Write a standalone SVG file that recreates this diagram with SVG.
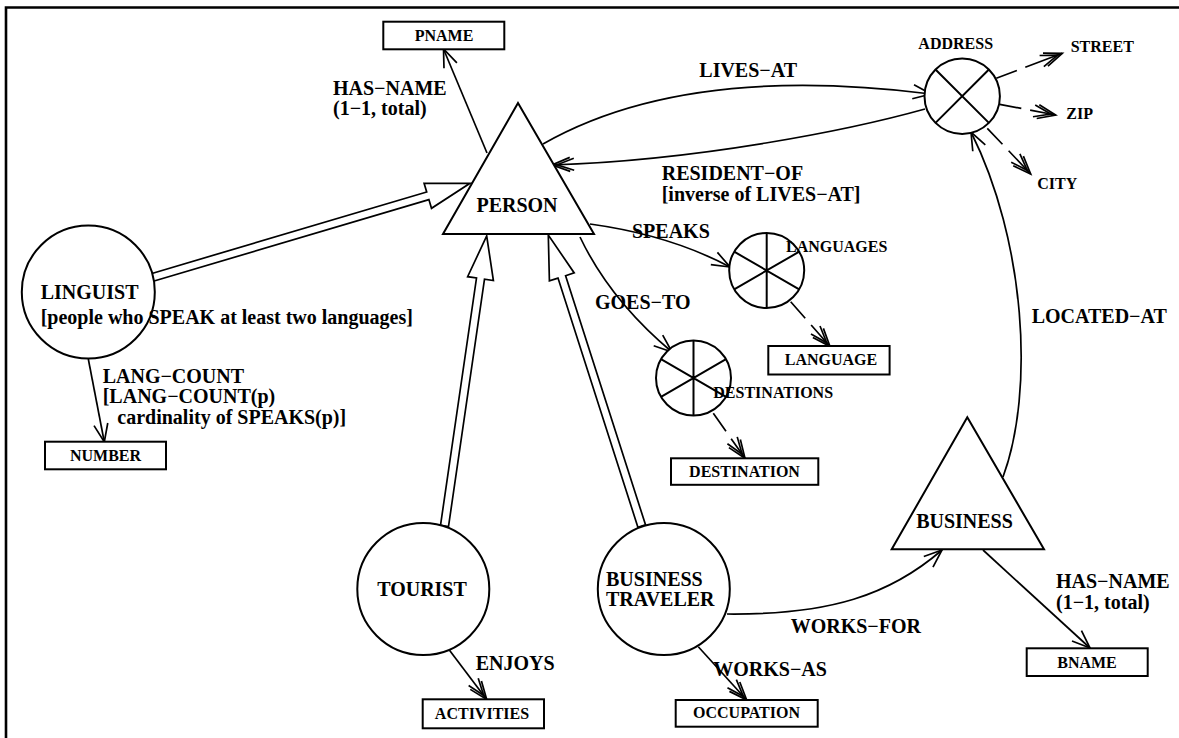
<svg xmlns="http://www.w3.org/2000/svg" width="1179" height="738" viewBox="0 0 1179 738">
  <style>
    .frame { fill: none; stroke: #000; stroke-width: 2.6; }
    .shape { fill: #fff; stroke: #000; stroke-width: 2; }
    .spoke { fill: none; stroke: #000; stroke-width: 2; }
    .box { fill: #fff; stroke: #000; stroke-width: 2; }
    .edge { fill: none; stroke: #000; stroke-width: 1.7; }
    .dash { fill: none; stroke: #000; stroke-width: 1.7; stroke-dasharray: 22 9 60; }
    .isa { fill: #fff; stroke: #000; stroke-width: 1.7; stroke-linejoin: miter; }
    .lbl { font-family: "Liberation Serif", "Times New Roman", serif; font-weight: bold; font-size: 20px; fill: #000; }
    .sm { font-family: "Liberation Serif", "Times New Roman", serif; font-weight: bold; font-size: 16px; fill: #000; }
    .mid { text-anchor: middle; }
  </style>
  <defs>
    <marker id="ah" markerUnits="userSpaceOnUse" orient="auto" overflow="visible" markerWidth="1" markerHeight="1">
      <path d="M-18,-7 L0,0 L-18,7" fill="none" stroke="#000" stroke-width="1.7"/>
    </marker>
    <marker id="ah2" markerUnits="userSpaceOnUse" orient="auto" overflow="visible" markerWidth="1" markerHeight="1">
      <path d="M-18,-7 L0,0 L-18,7 M-22,-6 L-5,0 L-22,6" fill="none" stroke="#000" stroke-width="1.7"/>
    </marker>
  </defs>

  <rect width="1179" height="738" fill="#fff"/>
  <path class="frame" d="M6,738 V7.5 H1179"/>

  <!-- connectors -->
  <g id="connectors">
    <!-- subclass (ISA) arrows -->
    <polygon class="isa" points="149.4,274.2 426.7,192.0 424.1,183.3 470,183.3 431.5,208.3 428.9,199.6 151.6,281.8"/>
    <polygon class="isa" points="440.5,525.4 476.5,278.0 467.6,276.7 486.7,236 493.4,280.5 484.5,279.2 448.5,526.6"/>
    <polygon class="isa" points="637.9,527.2 558.0,278.1 549.4,280.9 548.3,235 574.2,272.9 565.6,275.7 645.5,524.8"/>

    <!-- attributes -->
    <path class="edge" d="M487,153 L443.5,49" marker-end="url(#ah)"/>
    <path class="edge" d="M543,144 C620,100 740,70 931,94" marker-end="url(#ah)"/>
    <path class="edge" d="M925,109 C850,130 700,160 552,165" marker-end="url(#ah2)"/>
    <path class="edge" d="M590,224 Q670,235 730,267" marker-end="url(#ah)"/>
    <path class="edge" d="M580,237 Q610,300 672,352" marker-end="url(#ah)"/>
    <path class="edge" d="M1003,477 C1035,390 1025,240 971,132" marker-end="url(#ah)"/>
    <path class="edge" d="M727,614 C830,615 890,595 942,550" marker-end="url(#ah)"/>
    <path class="edge" d="M983,550 L1090,648" marker-end="url(#ah)"/>
    <path class="edge" d="M88.3,359 L104.3,442" marker-end="url(#ah)"/>
    <path class="edge" d="M449.3,650 L486.7,699.5" marker-end="url(#ah2)"/>
    <path class="edge" d="M698.3,646.7 L746.7,700" marker-end="url(#ah2)"/>

    <!-- set member arrows -->
    <path class="dash" d="M996.3,78.3 L1062.3,53.3" marker-end="url(#ah2)"/>
    <path class="dash" d="M999.7,104.3 L1055.7,115" marker-end="url(#ah2)"/>
    <path class="dash" d="M987.3,128.3 L1030.7,174" marker-end="url(#ah2)"/>
    <path class="dash" d="M790.7,301.7 L830,346.5" marker-end="url(#ah2)"/>
    <path class="dash" d="M713.3,413.3 L745,458.3" marker-end="url(#ah2)"/>

    <!-- connector labels -->
    <text class="lbl" x="333" y="95">HAS−NAME</text>
    <text class="lbl" x="333" y="115">(1−1, total)</text>
    <text class="lbl" x="699.3" y="77.3">LIVES−AT</text>
    <text class="lbl" x="661.7" y="180">RESIDENT−OF</text>
    <text class="lbl" x="661.7" y="201">[inverse of LIVES−AT]</text>
    <text class="lbl" x="632" y="237.7">SPEAKS</text>
    <text class="lbl" x="595" y="309.3">GOES−TO</text>
    <text class="lbl" x="1031.7" y="323.3">LOCATED−AT</text>
    <text class="lbl" x="102.7" y="383">LANG−COUNT</text>
    <text class="lbl" x="102.7" y="403">[LANG−COUNT(p)</text>
    <text class="lbl" x="117.3" y="424">cardinality of SPEAKS(p)]</text>
    <text class="lbl" x="475.7" y="670">ENJOYS</text>
    <text class="lbl" x="713.3" y="676">WORKS−AS</text>
    <text class="lbl" x="790.7" y="632.7">WORKS−FOR</text>
    <text class="lbl" x="1056" y="588">HAS−NAME</text>
    <text class="lbl" x="1056" y="609">(1−1, total)</text>
  </g>

  <!-- entity classes -->
  <g id="person">
    <polygon class="shape" points="518,103 443,234 594,234"/>
    <text class="lbl mid" x="517" y="212">PERSON</text>
  </g>
  <g id="business">
    <polygon class="shape" points="967.3,417.3 891.7,549.3 1044,549.3"/>
    <text class="lbl mid" x="964.5" y="528.3">BUSINESS</text>
  </g>

  <!-- subclasses -->
  <g id="linguist">
    <circle class="shape" cx="88.3" cy="292" r="66.5"/>
    <text class="lbl" x="40.7" y="299">LINGUIST</text>
    <text class="lbl" x="40.7" y="324">[people who SPEAK at least two languages]</text>
  </g>
  <g id="tourist">
    <circle class="shape" cx="423.3" cy="589" r="66"/>
    <text class="lbl mid" x="422" y="596">TOURIST</text>
  </g>
  <g id="business-traveler">
    <circle class="shape" cx="663.8" cy="589" r="66"/>
    <text class="lbl" x="606" y="586">BUSINESS</text>
    <text class="lbl" x="606" y="606">TRAVELER</text>
  </g>

  <!-- aggregate / grouping nodes -->
  <g id="address">
    <circle class="shape" cx="962.2" cy="96.2" r="37.7"/>
    <path class="spoke" d="M935.5,69.5 L988.9,122.9 M988.9,69.5 L935.5,122.9"/>
    <text class="sm mid" x="955.7" y="49.3">ADDRESS</text>
  </g>
  <g id="languages">
    <circle class="shape" cx="766.7" cy="270.5" r="37.5"/>
    <path class="spoke" d="M766.7,233 V308 M734.2,251.7 L799.2,289.3 M734.2,289.3 L799.2,251.7"/>
    <text class="sm" x="786" y="251.7">LANGUAGES</text>
  </g>
  <g id="destinations">
    <circle class="shape" cx="693.5" cy="378" r="37.5"/>
    <path class="spoke" d="M693.5,340.5 V415.5 M661,359.2 L726,396.8 M661,396.8 L726,359.2"/>
    <text class="sm" x="713.3" y="397.7">DESTINATIONS</text>
  </g>

  <!-- value classes -->
  <g id="pname">
    <rect class="box" x="383.3" y="21.7" width="121" height="27.6"/>
    <text class="sm mid" x="444" y="41">PNAME</text>
  </g>
  <g id="street">
    <text class="sm" x="1070.7" y="51.7">STREET</text>
  </g>
  <g id="zip">
    <text class="sm" x="1066.3" y="119">ZIP</text>
  </g>
  <g id="city">
    <text class="sm" x="1037.3" y="189">CITY</text>
  </g>
  <g id="number">
    <rect class="box" x="45" y="441.7" width="121" height="27.6"/>
    <text class="sm mid" x="105.5" y="461">NUMBER</text>
  </g>
  <g id="language">
    <rect class="box" x="768.3" y="346" width="121.3" height="28.5"/>
    <text class="sm mid" x="831" y="364.5">LANGUAGE</text>
  </g>
  <g id="destination">
    <rect class="box" x="671" y="458.3" width="147.3" height="26.5"/>
    <text class="sm mid" x="744.5" y="476.5">DESTINATION</text>
  </g>
  <g id="activities">
    <rect class="box" x="422.7" y="699.3" width="121.3" height="29"/>
    <text class="sm mid" x="482" y="719.3">ACTIVITIES</text>
  </g>
  <g id="occupation">
    <rect class="box" x="675.7" y="700" width="142" height="26.7"/>
    <text class="sm mid" x="746.5" y="718.3">OCCUPATION</text>
  </g>
  <g id="bname">
    <rect class="box" x="1026.7" y="648.3" width="121" height="27.7"/>
    <text class="sm mid" x="1087" y="668.3">BNAME</text>
  </g>
</svg>
